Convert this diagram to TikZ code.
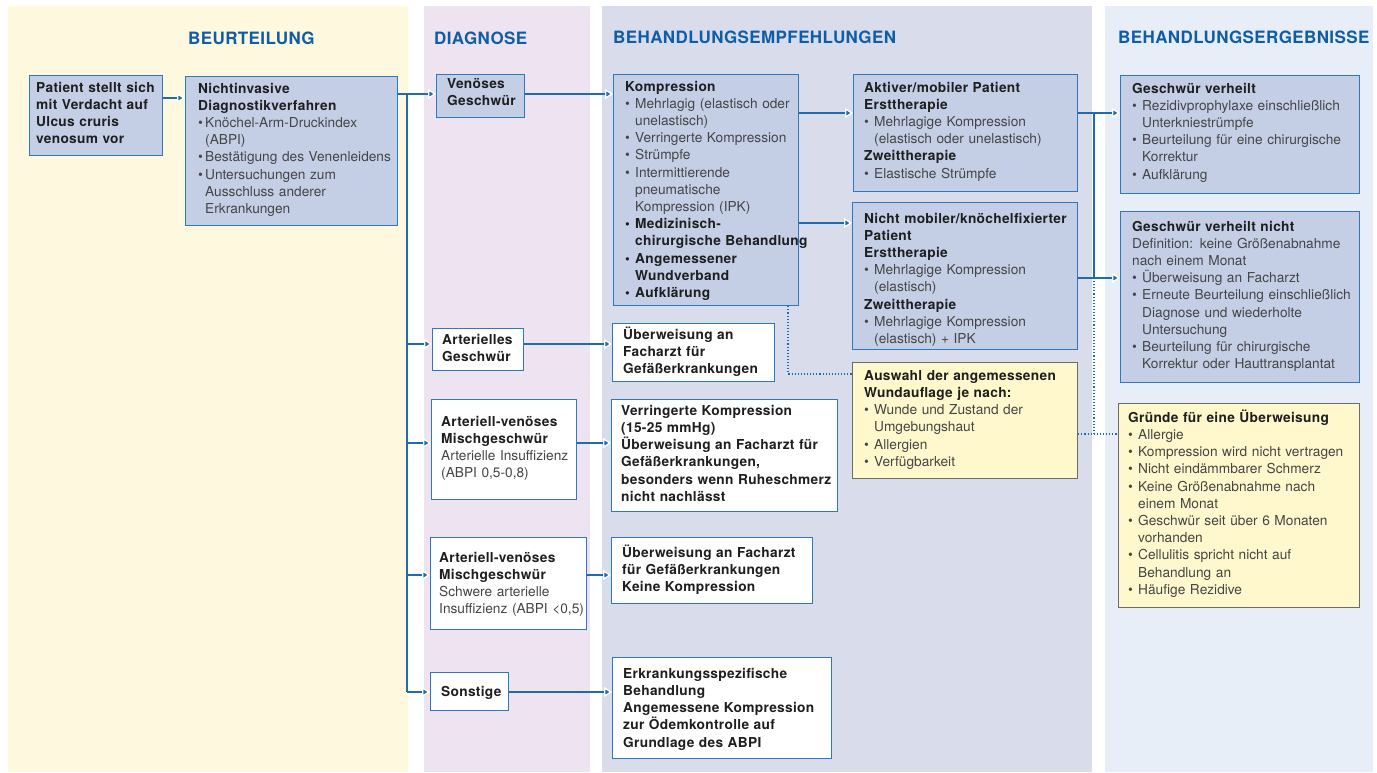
\documentclass[tikz,border=0pt]{standalone}
\usepackage{fontspec}
\setmainfont{TeX Gyre Heros}[BoldFeatures={LetterSpace=2.3}]
\usetikzlibrary{arrows.meta}
\definecolor{pyellow}{HTML}{FEF9DE}
\definecolor{ppurple}{HTML}{EEE3F0}
\definecolor{pgray}{HTML}{D9DDEB}
\definecolor{pblue}{HTML}{E7EEF7}
\definecolor{bfill}{HTML}{C4CFE6}
\definecolor{bline}{HTML}{2F78BD}
\definecolor{yfill}{HTML}{FFF8CC}
\definecolor{yline}{HTML}{6B6B6B}
\definecolor{cline}{HTML}{1E6BB0}
\definecolor{hblue}{HTML}{0F5DA8}
\definecolor{tb}{HTML}{1E1E1E}
\definecolor{tg}{HTML}{454545}
\newcommand{\mystrut}{\noindent\rule{0pt}{13pt}}
\newcommand{\mybf}[1]{{\bfseries\color{tb}#1}}
\newcommand{\mybul}{\makebox[10pt][l]{\textbullet}}
\newcommand{\myind}{\hspace*{10pt}}
\newcommand{\mybulx}{\makebox[7pt][l]{\textbullet}}
\newcommand{\myindx}{\hspace*{7pt}}
\tikzset{
  bbox/.style={draw=bline, fill=bfill, line width=1.2pt, inner sep=0pt, anchor=north west},
  wbox/.style={draw=bline, fill=white, line width=1.2pt, inner sep=0pt, anchor=north west},
  ybox/.style={draw=yline, fill=yfill, line width=1.2pt, inner sep=0pt, anchor=north west},
  txt/.style={anchor=north west, inner sep=0pt, text width=300pt, align=left, text=tg,
              font=\fontsize{13.7}{17.2}\selectfont},
  head/.style={anchor=base west, inner sep=0pt, text=hblue, font=\fontsize{17}{20}\selectfont\bfseries},
  conn/.style={draw=cline, line width=1.2pt},
  arr/.style={conn, -{Triangle[length=8pt,width=10pt,fill=cline,color=white,line width=1.3pt]}},
  dots/.style={draw=cline, line width=1.1pt, dotted},
}
\begin{document}
\begin{tikzpicture}[x=1pt,y=-1pt]
\useasboundingbox (0,0) rectangle (1377,773);
% panels
\fill[pyellow] (8,6) rectangle (408,772);
\fill[ppurple] (424,6) rectangle (590,772);
\fill[pgray] (602,6) rectangle (1092,772);
\fill[pblue] (1105,6) rectangle (1373,772);
% headers
\node[head] (h1) at (188,45) {BEURTEILUNG};
\node[head] (h2) at (434,45) {DIAGNOSE};
\node[head] (h3) at (613,44) {BEHANDLUNGSEMPFEHLUNGEN};
\node[head] (h4) at (1118,44) {BEHANDLUNGSERGEBNISSE};
% boxes
\node[bbox, minimum width=133, minimum height=80] (patient) at (29,75) {};
\node[bbox, minimum width=212, minimum height=149] (nidv) at (185,76) {};
\node[bbox, minimum width=88, minimum height=43] (venoes) at (436,74) {};
\node[bbox, minimum width=185, minimum height=231] (kompr) at (613,74) {};
\node[bbox, minimum width=224, minimum height=117] (aktiv) at (853,74) {};
\node[bbox, minimum width=225, minimum height=147] (nichtmob) at (852,202) {};
\node[ybox, minimum width=225, minimum height=116] (auswahl) at (852,362) {};
\node[bbox, minimum width=239, minimum height=118] (verheilt) at (1120,75) {};
\node[bbox, minimum width=239, minimum height=171] (nverheilt) at (1120,211) {};
\node[ybox, minimum width=241, minimum height=204] (gruende) at (1118,403) {};
\node[wbox, minimum width=91, minimum height=42] (arteriell) at (432,328) {};
\node[wbox, minimum width=162, minimum height=58] (ueberw1) at (612,323) {};
\node[wbox, minimum width=145, minimum height=100] (av1) at (431,399) {};
\node[wbox, minimum width=226, minimum height=112] (verring) at (611,399) {};
\node[wbox, minimum width=156, minimum height=92] (av2) at (430,537) {};
\node[wbox, minimum width=201, minimum height=66] (ueberw2) at (611,537) {};
\node[wbox, minimum width=78, minimum height=38] (sonstige) at (430,672) {};
\node[wbox, minimum width=219, minimum height=101] (erkrank) at (612,657) {};
% texts
\node[txt] (tpatient) at (36,79) {\mystrut\mybf{Patient stellt sich\\mit Verdacht auf\\Ulcus cruris\\venosum vor}};
\node[txt] (tnidv) at (198,80) {\mystrut\mybf{Nichtinvasive\\Diagnostikverfahren}\\
 \mybulx Knöchel-Arm-Druckindex\\\myindx(ABPI)\\
 \mybulx Bestätigung des Venenleidens\\
 \mybulx Untersuchungen zum\\\myindx Ausschluss anderer\\\myindx Erkrankungen};
\node[txt] (tvenoes) at (447,75) {\mystrut\mybf{Venöses\\Geschwür}};
\node[txt] (tkompr) at (625,78) {\mystrut\mybf{Kompression}\\
 \mybul Mehrlagig (elastisch oder\\\myind unelastisch)\\
 \mybul Verringerte Kompression\\
 \mybul Strümpfe\\
 \mybul Intermittierende\\\myind pneumatische\\\myind Kompression (IPK)\\
 \mybf{\mybul Medizinisch-\\\myind chirurgische Behandlung\\
 \mybul Angemessener\\\myind Wundverband\\
 \mybul Aufklärung}};
\node[txt] (taktiv) at (864,79) {\mystrut\mybf{Aktiver/mobiler Patient\\Ersttherapie}\\
 \mybul Mehrlagige Kompression\\\myind (elastisch oder unelastisch)\\
 \mybf{Zweittherapie}\\
 \mybul Elastische Strümpfe};
\node[txt] (tnichtmob) at (864,210) {\mystrut\mybf{Nicht mobiler/knöchelfixierter\\Patient\\Ersttherapie}\\
 \mybul Mehrlagige Kompression\\\myind (elastisch)\\
 \mybf{Zweittherapie}\\
 \mybul Mehrlagige Kompression\\\myind (elastisch) + IPK};
\node[txt] (tauswahl) at (864,367) {\mystrut\mybf{Auswahl der angemessenen\\Wundauflage je nach:}\\
 \mybul Wunde und Zustand der\\\myind Umgebungshaut\\
 \mybul Allergien\\
 \mybul Verfügbarkeit};
\node[txt] (tverheilt) at (1132,80) {\mystrut\mybf{Geschwür verheilt}\\
 \mybul Rezidivprophylaxe einschließlich\\\myind Unterkniestrümpfe\\
 \mybul Beurteilung für eine chirurgische\\\myind Korrektur\\
 \mybul Aufklärung};
\node[txt] (tnverheilt) at (1132,218) {\mystrut\mybf{Geschwür verheilt nicht}\\
 Definition: keine Größenabnahme\\nach einem Monat\\
 \mybul Überweisung an Facharzt\\
 \mybul Erneute Beurteilung einschließlich\\\myind Diagnose und wiederholte\\\myind Untersuchung\\
 \mybul Beurteilung für chirurgische\\\myind Korrektur oder Hauttransplantat};
\node[txt] (tgruende) at (1128,409) {\mystrut\mybf{Gründe für eine Überweisung}\\
 \mybul Allergie\\
 \mybul Kompression wird nicht vertragen\\
 \mybul Nicht eindämmbarer Schmerz\\
 \mybul Keine Größenabnahme nach\\\myind einem Monat\\
 \mybul Geschwür seit über 6 Monaten\\\myind vorhanden\\
 \mybul Cellulitis spricht nicht auf\\\myind Behandlung an\\
 \mybul Häufige Rezidive};
\node[txt] (tarteriell) at (442,331) {\mystrut\mybf{Arterielles\\Geschwür}};
\node[txt] (tueberw1) at (623,326) {\mystrut\mybf{Überweisung an\\Facharzt für\\Gefäßerkrankungen}};
\node[txt] (tav1) at (441,413) {\mystrut\mybf{Arteriell-venöses\\Mischgeschwür}\\Arterielle Insuffizienz\\(ABPI 0,5-0,8)};
\node[txt] (tverring) at (621,402) {\mystrut\mybf{Verringerte Kompression\\(15-25 mmHg)\\Überweisung an Facharzt für\\Gefäßerkrankungen,\\besonders wenn Ruheschmerz\\nicht nachlässt}};
\node[txt] (tav2) at (439,549) {\mystrut\mybf{Arteriell-venöses\\Mischgeschwür}\\Schwere arterielle\\Insuffizienz (ABPI <0,5)};
\node[txt] (tueberw2) at (622,544) {\mystrut\mybf{Überweisung an Facharzt\\für Gefäßerkrankungen\\Keine Kompression}};
\node[txt] (tsonstige) at (441,683) {\mystrut\mybf{Sonstige}};
\node[txt] (terkrank) at (623,665) {\mystrut\mybf{Erkrankungsspezifische\\Behandlung\\Angemessene Kompression\\zur Ödemkontrolle auf\\Grundlage des ABPI}};
% connectors
\coordinate (p0) at (170,98);
\coordinate (t0) at (407,94);
\coordinate (t1) at (407,344);
\coordinate (t2) at (407,443);
\coordinate (t3) at (407,575);
\coordinate (t4) at (407,692);
\coordinate (k1) at (820,113);
\coordinate (k2) at (820,223);
\coordinate (r0) at (1094,113);
\coordinate (r1) at (1094,278);
\coordinate (d0) at (788,374);
\coordinate (d1) at (1094,434);
\draw[dots] (d0 |- kompr.south) -- (d0) -- (d0 -| auswahl.west);
\draw[dots] (d1 -| auswahl.east) -- (d1 -| gruende.west);
\draw[dots] (d1) -- (r1);
\draw[arr] (p0 -| patient.east) -- (p0 -| nidv.west);
\draw[conn] (t0 -| nidv.east) -- (t0) -- (t4);
\draw[arr] (t0) -- (t0 -| venoes.west);
\draw[arr] (t1) -- (t1 -| arteriell.west);
\draw[arr] (t2) -- (t2 -| av1.west);
\draw[arr] (t3) -- (t3 -| av2.west);
\draw[arr] (t4) -- (t4 -| sonstige.west);
\draw[arr] (t0 -| venoes.east) -- (t0 -| kompr.west);
\draw[arr] (t1 -| arteriell.east) -- (t1 -| ueberw1.west);
\draw[arr] (t2 -| av1.east) -- (t2 -| verring.west);
\draw[arr] (t3 -| av2.east) -- (t3 -| ueberw2.west);
\draw[arr] (t4 -| sonstige.east) -- (t4 -| erkrank.west);
\draw[arr] (k1 -| kompr.east) -- (k1 -| aktiv.west);
\draw[arr] (k2 -| kompr.east) -- (k2 -| nichtmob.west);
\draw[conn] (r0 -| aktiv.east) -- (r0) -- (r1);
\draw[arr] (r0) -- (r0 -| verheilt.west);
\draw[arr] (r1 -| nichtmob.east) -- (r1 -| nverheilt.west);
\end{tikzpicture}
\end{document}
